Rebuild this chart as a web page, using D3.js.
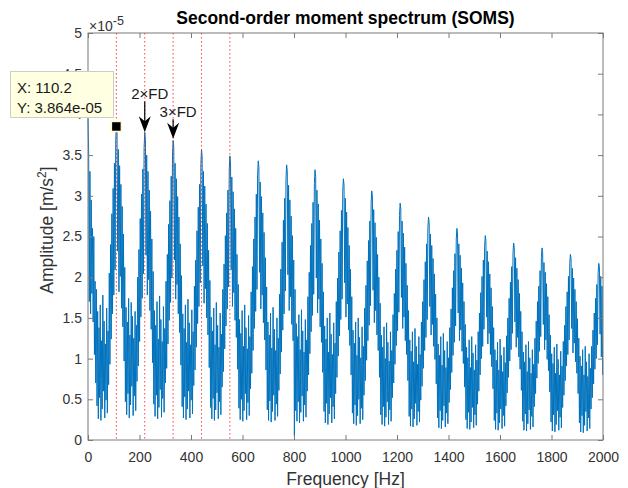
<!DOCTYPE html>
<html>
<head>
<meta charset="utf-8">
<script src="https://cdn.jsdelivr.net/npm/d3@7"></script>
<style>
  html, body { margin: 0; padding: 0; background: #fff; }
  svg { display: block; }
  text { font-family: "Liberation Sans", Arial, Helvetica, sans-serif; }
</style>
</head>
<body>
<svg id="chart" width="628" height="488"></svg>
<script>
// ---------------- data ----------------
const chartTitle = "Second-order moment spectrum (SOMS)";
const xLabel = "Frequency [Hz]";
const yLabel = "Amplitude [m/s";
const yExponent = "-5";
const binHz = 110.2 / 44; // spectral bin spacing

// amplitude in units of 1e-5 m/s^2, one value per bin (each row = one 110.2 Hz period)
const amplitude = [
  3.95, 3.55, 1.70, 3.30, 1.55, 2.95, 1.80, 2.60, 1.45, 2.50, 1.05, 1.95, 0.70, 1.85, 0.42, 1.58, 0.26, 1.38, 0.52, 1.66, 0.24, 1.22, 0.38, 1.78, 0.60, 1.46, 0.27, 1.18, 0.49, 1.62, 0.33, 1.34, 0.68, 2.05, 0.93, 2.40, 1.24, 2.78, 1.55, 3.09, 1.78, 3.40, 2.09, 3.67,
  3.864, 3.77, 2.32, 3.57, 1.82, 3.37, 2.01, 3.14, 1.62, 2.87, 1.39, 2.53, 0.97, 2.12, 0.47, 1.63, 0.31, 1.45, 0.57, 1.74, 0.27, 1.29, 0.43, 1.69, 0.66, 1.52, 0.30, 1.25, 0.54, 1.58, 0.36, 1.41, 0.72, 2.00, 0.91, 2.34, 1.21, 2.72, 1.51, 3.02, 1.74, 3.33, 2.04, 3.59,
  3.78, 3.69, 2.27, 3.50, 1.78, 3.30, 1.97, 3.07, 1.59, 2.81, 1.36, 2.47, 0.95, 2.07, 0.44, 1.59, 0.29, 1.41, 0.55, 1.70, 0.26, 1.24, 0.40, 1.77, 0.62, 1.48, 0.28, 1.21, 0.51, 1.64, 0.34, 1.37, 0.70, 1.95, 0.88, 2.28, 1.18, 2.65, 1.47, 2.94, 1.69, 3.24, 1.99, 3.50,
  3.68, 3.59, 2.21, 3.40, 1.73, 3.21, 1.91, 2.99, 1.55, 2.74, 1.32, 2.41, 0.92, 2.02, 0.41, 1.55, 0.27, 1.37, 0.53, 1.66, 0.25, 1.20, 0.38, 1.73, 0.60, 1.44, 0.27, 1.17, 0.49, 1.60, 0.32, 1.33, 0.67, 1.89, 0.86, 2.21, 1.14, 2.57, 1.43, 2.86, 1.64, 3.14, 1.93, 3.39,
  3.57, 3.48, 2.14, 3.30, 1.68, 3.12, 1.86, 2.90, 1.50, 2.66, 1.29, 2.33, 0.89, 1.96, 0.40, 1.51, 0.26, 1.34, 0.51, 1.62, 0.24, 1.17, 0.37, 1.69, 0.58, 1.41, 0.26, 1.14, 0.47, 1.56, 0.31, 1.30, 0.65, 1.85, 0.84, 2.16, 1.12, 2.51, 1.40, 2.79, 1.61, 3.07, 1.88, 3.32,
  3.49, 3.41, 2.09, 3.23, 1.64, 3.05, 1.81, 2.84, 1.47, 2.60, 1.26, 2.28, 0.87, 1.91, 0.39, 1.48, 0.25, 1.31, 0.50, 1.59, 0.23, 1.15, 0.36, 1.66, 0.57, 1.38, 0.25, 1.12, 0.46, 1.53, 0.30, 1.27, 0.63, 1.82, 0.82, 2.13, 1.10, 2.47, 1.37, 2.74, 1.58, 3.02, 1.85, 3.26,
  3.43, 3.35, 2.06, 3.17, 1.61, 2.99, 1.78, 2.79, 1.44, 2.55, 1.23, 2.24, 0.86, 1.88, 0.37, 1.45, 0.24, 1.29, 0.48, 1.56, 0.22, 1.13, 0.35, 1.63, 0.55, 1.36, 0.24, 1.10, 0.44, 1.50, 0.29, 1.25, 0.61, 1.79, 0.81, 2.10, 1.08, 2.43, 1.35, 2.70, 1.55, 2.97, 1.83, 3.21,
  3.38, 3.30, 2.03, 3.13, 1.59, 2.95, 1.76, 2.75, 1.42, 2.51, 1.22, 2.21, 0.05, 1.85, 0.36, 1.43, 0.23, 1.27, 0.47, 1.54, 0.21, 1.11, 0.34, 1.60, 0.54, 1.34, 0.23, 1.08, 0.43, 1.48, 0.28, 1.23, 0.60, 1.76, 0.80, 2.06, 1.06, 2.39, 1.33, 2.66, 1.53, 2.92, 1.79, 3.15,
  3.32, 3.24, 1.99, 3.07, 1.56, 2.90, 1.73, 2.70, 1.39, 2.47, 1.20, 2.17, 0.83, 1.82, 0.35, 1.40, 0.21, 1.24, 0.45, 1.50, 0.19, 1.08, 0.32, 1.56, 0.52, 1.30, 0.21, 1.05, 0.41, 1.44, 0.26, 1.19, 0.57, 1.70, 0.77, 1.99, 1.03, 2.31, 1.28, 2.57, 1.48, 2.82, 1.73, 3.05,
  3.21, 3.13, 1.93, 2.97, 1.51, 2.80, 1.67, 2.61, 1.35, 2.39, 1.16, 2.10, 0.80, 1.76, 0.33, 1.35, 0.20, 1.19, 0.43, 1.45, 0.18, 1.04, 0.30, 1.50, 0.50, 1.26, 0.20, 1.01, 0.39, 1.39, 0.25, 1.15, 0.55, 1.62, 0.73, 1.90, 0.98, 2.20, 1.22, 2.45, 1.41, 2.69, 1.65, 2.91,
  3.06, 2.99, 1.84, 2.83, 1.44, 2.67, 1.59, 2.49, 1.29, 2.28, 1.10, 2.00, 0.77, 1.68, 0.31, 1.29, 0.19, 1.14, 0.41, 1.39, 0.17, 1.00, 0.28, 1.44, 0.47, 1.20, 0.19, 0.97, 0.37, 1.33, 0.23, 1.10, 0.52, 1.54, 0.70, 1.80, 0.93, 2.10, 1.16, 2.33, 1.34, 2.56, 1.57, 2.76,
  2.91, 2.84, 1.75, 2.69, 1.37, 2.54, 1.51, 2.37, 1.22, 2.17, 1.05, 1.90, 0.73, 1.59, 0.29, 1.23, 0.17, 1.09, 0.38, 1.33, 0.16, 0.96, 0.26, 1.37, 0.45, 1.15, 0.18, 0.93, 0.35, 1.27, 0.22, 1.05, 0.49, 1.45, 0.66, 1.70, 0.88, 1.97, 1.10, 2.19, 1.26, 2.41, 1.48, 2.60,
  2.74, 2.67, 1.64, 2.53, 1.29, 2.39, 1.42, 2.23, 1.15, 2.04, 0.99, 1.79, 0.69, 1.50, 0.27, 1.18, 0.15, 1.04, 0.36, 1.27, 0.14, 0.92, 0.24, 1.31, 0.42, 1.10, 0.16, 0.89, 0.33, 1.21, 0.20, 1.01, 0.46, 1.38, 0.62, 1.61, 0.83, 1.87, 1.04, 2.08, 1.20, 2.29, 1.40, 2.47,
  2.60, 2.54, 1.56, 2.41, 1.22, 2.27, 1.35, 2.11, 1.09, 1.93, 0.94, 1.70, 0.65, 1.42, 0.25, 1.14, 0.14, 1.01, 0.34, 1.23, 0.13, 0.89, 0.22, 1.27, 0.40, 1.07, 0.15, 0.86, 0.31, 1.17, 0.18, 0.98, 0.44, 1.33, 0.60, 1.56, 0.80, 1.81, 1.00, 2.01, 1.15, 2.21, 1.36, 2.38,
  2.51, 2.45, 1.51, 2.32, 1.18, 2.19, 1.31, 2.04, 1.05, 1.87, 0.90, 1.64, 0.63, 1.38, 0.24, 1.11, 0.13, 0.98, 0.33, 1.20, 0.12, 0.86, 0.21, 1.24, 0.38, 1.04, 0.14, 0.84, 0.30, 1.14, 0.17, 0.95, 0.42, 1.28, 0.58, 1.50, 0.77, 1.74, 0.97, 1.94, 1.11, 2.13, 1.31, 2.30,
  2.42, 2.36, 1.45, 2.24, 1.14, 2.11, 1.26, 1.97, 1.02, 1.80, 0.87, 1.58, 0.61, 1.33, 0.23, 1.08, 0.12, 0.96, 0.32, 1.17, 0.11, 0.84, 0.20, 1.21, 0.37, 1.01, 0.13, 0.82, 0.29, 1.11, 0.16, 0.93, 0.41, 1.25, 0.57, 1.46, 0.76, 1.70, 0.94, 1.89, 1.09, 2.08, 1.27, 2.24,
  2.36, 2.30, 1.42, 2.18, 1.11, 2.06, 1.23, 1.92, 0.99, 1.76, 0.85, 1.54, 0.59, 1.29, 0.22, 1.06, 0.11, 0.94, 0.31, 1.14, 0.10, 0.82, 0.19, 1.18, 0.36, 0.99, 0.12, 0.80, 0.28, 1.09, 0.15, 0.91, 0.40, 1.21, 0.55, 1.41, 0.73, 1.64, 0.91, 1.82, 1.05, 2.01, 1.23, 2.17,
  2.28, 2.23, 1.37, 2.11, 1.07, 1.99, 1.19, 1.85, 0.96, 1.70, 0.82, 1.49, 0.57, 1.25, 0.21, 1.03, 0.10, 0.91, 0.30, 1.11, 0.09, 0.80, 0.18, 1.15, 0.35, 0.96, 0.11, 0.78, 0.27, 1.06, 0.14, 0.88, 0.38, 1.15, 0.52, 1.35, 0.69, 1.56, 0.87, 1.74, 1.00, 1.91, 1.17, 2.06,
  2.17, 2.12, 1.30, 2.01, 1.02, 1.89, 0.80
];

const xTicks = [0, 200, 400, 600, 800, 1000, 1200, 1400, 1600, 1800, 2000];
const yTicks = [0, 0.5, 1, 1.5, 2, 2.5, 3, 3.5, 4, 4.5, 5];
const harmonicFreqs = [110.2, 220.4, 330.6, 440.8, 551.0];
const arrowNotes = [
  { label: "2×FD", freq: 220.4, tipValue: 3.78, tailValue: 4.16 },
  { label: "3×FD", freq: 330.6, tipValue: 3.70, tailValue: 3.94 }
];
const dataTip = { freq: 110.2, value: 3.864, lines: ["X: 110.2", "Y: 3.864e-05"] };

// ---------------- layout ----------------
const svg = d3.select("#chart");
const L = 88, R = 603, T = 33, B = 440;
const x = d3.scaleLinear().domain([0, 2000]).range([L, R]);
const y = d3.scaleLinear().domain([0, 5]).range([B, T]);
const axisColor = "#7a7a7a";
const textColor = "#333333";

// spectrum line
const line = d3.line()
  .x((d, i) => x(i * binHz))
  .y(d => y(d));
svg.append("path")
  .datum(amplitude)
  .attr("d", line)
  .attr("fill", "none")
  .attr("stroke", "#0072BD")
  .attr("stroke-width", 1)
  .attr("stroke-linejoin", "bevel");

// harmonic dotted lines
svg.append("g").selectAll("line")
  .data(harmonicFreqs)
  .join("line")
  .attr("x1", d => x(d)).attr("x2", d => x(d))
  .attr("y1", T).attr("y2", B)
  .attr("stroke", "#ff2020")
  .attr("stroke-width", 1)
  .attr("stroke-dasharray", "1.5 2.5")
  .attr("opacity", 0.85);

// axes
function styleAxis(g) {
  g.select(".domain").remove();
  g.selectAll(".tick line").attr("stroke", axisColor);
  g.selectAll(".tick text")
    .attr("fill", textColor)
    .style("font-size", "14px")
    .style("font-family", '"Liberation Sans", Arial, Helvetica, sans-serif');
}
svg.append("g").attr("transform", `translate(0,${B})`)
  .call(d3.axisBottom(x).tickValues(xTicks).tickSize(-5).tickPadding(12).tickFormat(d => String(d)))
  .call(styleAxis);
svg.append("g").attr("transform", `translate(0,${T})`)
  .call(d3.axisTop(x).tickValues(xTicks).tickSize(-5).tickFormat(""))
  .call(styleAxis);
svg.append("g").attr("transform", `translate(${L},0)`)
  .call(d3.axisLeft(y).tickValues(yTicks).tickSize(-5).tickPadding(6).tickFormat(d => String(d)))
  .call(styleAxis);
svg.append("g").attr("transform", `translate(${R},0)`)
  .call(d3.axisRight(y).tickValues(yTicks).tickSize(-5).tickFormat(""))
  .call(styleAxis);

svg.append("rect")
  .attr("x", L).attr("y", T).attr("width", R - L).attr("height", B - T)
  .attr("fill", "none").attr("stroke", axisColor).attr("stroke-width", 1);

// exponent label
const ex = svg.append("text").attr("x", 89).attr("y", 31)
  .attr("fill", textColor).style("font-size", "14px");
ex.append("tspan").text("×10");
ex.append("tspan").attr("dy", -6).style("font-size", "12.5px").text(yExponent);

// title
svg.append("text")
  .attr("x", (L + R) / 2).attr("y", 24)
  .attr("text-anchor", "middle")
  .style("font-size", "17.5px").style("font-weight", "bold")
  .attr("fill", "#000")
  .text(chartTitle);

// x label
svg.append("text")
  .attr("x", (L + R) / 2).attr("y", 485)
  .attr("text-anchor", "middle")
  .style("font-size", "17.5px")
  .attr("fill", textColor)
  .text(xLabel);

// y label
const yl = svg.append("text")
  .attr("transform", `translate(53,230) rotate(-90)`)
  .attr("text-anchor", "middle")
  .style("font-size", "17.5px")
  .attr("fill", textColor);
yl.append("tspan").text(yLabel);
yl.append("tspan").attr("dy", -7).style("font-size", "12px").text("2");
yl.append("tspan").attr("dy", 7).text("]");

// arrows with labels
const headPath = "M0,0 L-6,-16 L0,-11 L6,-16 Z";
arrowNotes.forEach(a => {
  const ax = x(a.freq);
  const tipY = y(a.tipValue);
  const tailY = y(a.tailValue);
  svg.append("line")
    .attr("x1", ax).attr("x2", ax)
    .attr("y1", tailY).attr("y2", tipY - 10)
    .attr("stroke", "#000").attr("stroke-width", 1.2);
  svg.append("path")
    .attr("d", headPath)
    .attr("transform", `translate(${ax},${tipY})`)
    .attr("fill", "#000");
  svg.append("text")
    .attr("x", ax + 5).attr("y", tailY - 2)
    .attr("text-anchor", "middle")
    .style("font-size", "15px")
    .attr("fill", "#1a1a1a")
    .text(a.label);
});

// data tip marker
svg.append("rect")
  .attr("x", x(dataTip.freq) - 5).attr("y", y(dataTip.value) - 4)
  .attr("width", 10).attr("height", 10)
  .attr("fill", "#000")
  .attr("stroke", "#fffac8").attr("stroke-width", 1.5);

// data tip box
svg.append("rect")
  .attr("x", 10.5).attr("y", 71.5).attr("width", 103).attr("height", 46)
  .attr("fill", "#ffffe1")
  .attr("stroke", "#cfcfbf").attr("stroke-width", 1);
svg.append("g").selectAll("text")
  .data(dataTip.lines)
  .join("text")
  .attr("x", 17)
  .attr("y", (d, i) => 93 + i * 19.5)
  .style("font-size", "15px")
  .attr("fill", "#1a1a1a")
  .text(d => d);
</script>
</body>
</html>
